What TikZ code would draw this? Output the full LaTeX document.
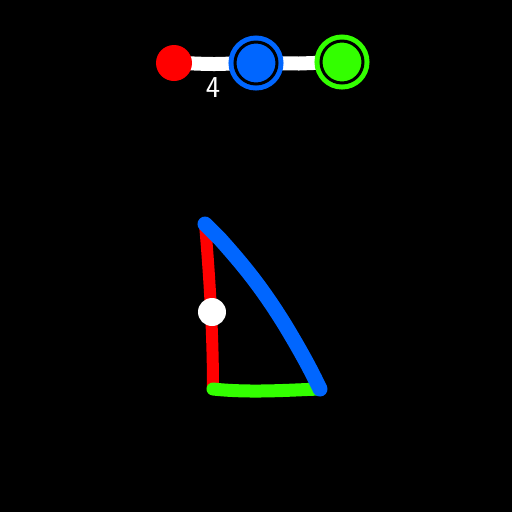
\documentclass[tikz,border=0pt]{standalone}
\usepackage{tikz}
\usetikzlibrary{calc}
\definecolor{dotred}{RGB}{255,0,0}
\definecolor{dotblue}{RGB}{0,102,255}
\definecolor{dotgreen}{RGB}{51,255,0}
\newcommand{\px}{0.02cm}

\begin{document}
\begin{tikzpicture}[x=\px,y=-\px,
  dot/.style={circle,inner sep=0pt,minimum size=36*\px},
  ringdot/.style={dot,minimum size=42*\px,line width=5*\px,double=black,double distance=3*\px},
  stroke/.style={line width=12*\px,line cap=round,line join=round}]
\fill[black] (0,0) rectangle (512,512);
\useasboundingbox (0,0) rectangle (512,512);
\coordinate (r) at (174,63);
\coordinate (b) at (256,63);
\coordinate (g) at (342,62);
\coordinate (t) at (205,224);
\coordinate (l) at (213,389);
\coordinate (s) at (320,389);
\coordinate (m) at (212,312);

\draw[stroke,white,line width=14*\px] (r) to[out=0,in=180] ($(r)!0.5!(b)+(0,1)$) -- (b) -- ($(b)!0.5!(g)+(0,1)$) -- (g);

\draw[stroke,dotred] (t) .. controls (209,270) and (213,330) .. (l);
\draw[stroke,dotgreen,line width=13*\px] (l) .. controls (250,393) and (290,390) .. (s);
\draw[stroke,dotblue,line width=15*\px] (t) -- (220,239) .. controls (245,267) and (262,288) .. (285,325) .. controls (300,350) and (310,368) .. (s);

\node[dot,fill=dotred] (red) at (r) {};
\node[ringdot,fill=dotblue,draw=dotblue] (blue) at (b) {};
\node[ringdot,fill=dotgreen,draw=dotgreen] (green) at (g) {};
\node[dot,fill=white,minimum size=28*\px] (mid) at (m) {};
\node[white,font=\sffamily\LARGE] (len) at (213,88) {4};
\end{tikzpicture}
\end{document}
